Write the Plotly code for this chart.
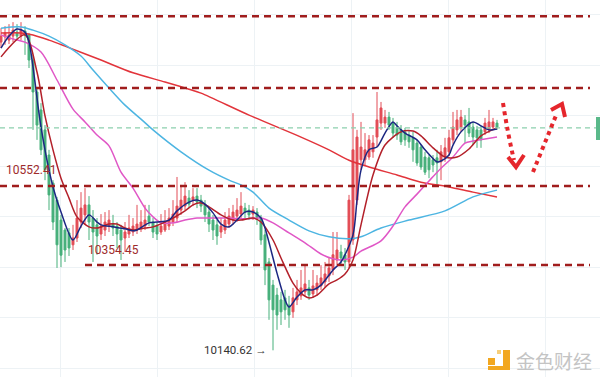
import plotly.graph_objects as go

# ---------------- data (prices) ----------------
open_ = [10913,10926,10918,10928,10938,10928,10941,10931,10868,10788,
         10743,10693,10630,10560,10517,10467,10442,10435,10405,10422,
         10462,10480,10505,10472,10455,10432,10442,10452,10457,10452,
         10442,10422,10432,10437,10442,10447,10452,10477,10462,10452,
         10437,10442,10452,10462,10472,10492,10502,10522,10517,10527,
         10517,10505,10487,10467,10455,10437,10442,10457,10467,10477,
         10482,10497,10492,10482,10487,10472,10430,10362,10304,10279,
         10267,10272,10254,10237,10267,10277,10287,10297,10282,10292,
         10302,10312,10327,10342,10367,10387,10380,10362,10417,10517,
         10618,10618,10625,10638,10675,10710,10710,10725,10710,10700,
         10693,10688,10680,10673,10660,10650,10625,10623,10618,10623,
         10613,10625,10638,10668,10693,10700,10718,10713,10700,10693,
         10693,10688,10693,10700,10710]
high = [10948,10953,10958,10963,10958,10963,10953,10936,10881,10798,
        10760,10705,10643,10567,10525,10480,10447,10447,10455,10517,
        10537,10547,10527,10492,10472,10482,10487,10492,10480,10462,
        10455,10462,10480,10472,10505,10492,10505,10505,10472,10462,
        10482,10492,10497,10517,10575,10555,10562,10542,10547,10547,
        10530,10517,10497,10480,10467,10472,10487,10497,10505,10522,
        10537,10510,10505,10502,10497,10480,10442,10372,10317,10297,
        10287,10292,10277,10297,10317,10342,10354,10317,10342,10329,
        10354,10362,10372,10437,10437,10405,10397,10530,10735,10693,
        10713,10685,10680,10680,10788,10763,10743,10738,10723,10713,
        10705,10698,10693,10688,10668,10655,10638,10630,10630,10643,
        10655,10673,10693,10738,10743,10743,10730,10748,10713,10703,
        10703,10723,10743,10723,10718]
low = [10898,10906,10908,10913,10918,10918,10881,10848,10693,10668,
       10630,10567,10492,10442,10347,10349,10362,10377,10392,10412,
       10447,10455,10417,10362,10380,10417,10427,10437,10427,10397,
       10367,10387,10422,10427,10432,10437,10442,10452,10422,10417,
       10430,10437,10442,10452,10462,10480,10492,10497,10502,10497,
       10487,10462,10437,10417,10405,10422,10432,10447,10455,10462,
       10472,10472,10467,10467,10455,10405,10304,10217,10140.62,10192,
       10204,10217,10197,10222,10254,10267,10277,10267,10272,10277,
       10292,10297,10312,10329,10354,10354,10342,10347,10405,10505,
       10593,10605,10618,10623,10650,10693,10698,10693,10673,10668,
       10655,10653,10648,10613,10603,10593,10580,10572,10587,10550,
       10567,10613,10628,10658,10680,10688,10660,10675,10655,10648,
       10648,10680,10685,10693,10693]
close = [10928,10936,10931,10943,10928,10943,10931,10868,10788,10705,
         10643,10593,10530,10462,10405,10379,10392,10397,10422,10472,
         10497,10505,10462,10437,10427,10452,10462,10467,10447,10432,
         10417,10437,10447,10452,10457,10462,10467,10462,10437,10432,
         10452,10462,10472,10482,10502,10517,10527,10507,10525,10512,
         10502,10480,10457,10442,10427,10452,10467,10477,10487,10492,
         10502,10487,10480,10492,10472,10417,10342,10267,10242,10229,
         10237,10242,10229,10272,10287,10297,10307,10279,10302,10309,
         10322,10332,10347,10380,10392,10372,10362,10517,10643,10675,
         10650,10643,10668,10660,10718,10748,10725,10705,10685,10680,
         10663,10668,10663,10643,10610,10600,10587,10593,10605,10610,
         10638,10648,10673,10700,10718,10725,10705,10685,10675,10673,
         10668,10710,10713,10713,10700]
candle_idx = list(range(len(close)))

# moving averages (index, price)
ma_navy_idx = [0,2,4,6,7,8,10,13,15,18,20,22,24,25,28,31,33,34,37,39,42,44,47,49,51,53,55,57,59,61,
               63,65,66,69,71,72,74,76,78,80,83,85,88,89,90,92,94,96,98,99,101,104,106,109,110,112,113,115,118,120,122,124]
ma_navy = [10898,10928,10946,10938,10913,10851,10700,10550,10487,10417,
           10452,10480,10462,10455,10450,10445,10440,10442,10460,10462,
           10467,10490,10512,10517,10507,10485,10457,10450,10467,10487,
           10487,10472,10447,10334,10267,10249,10274,10292,10292,10304,
           10342,10362,10430,10517,10592,10643,10650,10685,10713,10703,
           10685,10668,10643,10613,10615,10630,10655,10688,10713,10703,
           10693,10695]
ma_dred_idx = [0,6,9,11,13,15,17,19,22,24,27,29,31,33,36,38,41,43,46,48,50,52,55,58,60,63,65,68,70,73,
               75,77,79,82,84,86,88,90,93,96,100,103,105,108,111,114,117,120,124]
ma_dred = [10876,10931,10838,10728,10643,10572,10522,10475,10450,10447,
           10457,10457,10447,10442,10447,10450,10462,10472,10490,10505,
           10510,10500,10480,10467,10467,10472,10462,10417,10372,10309,
           10284,10272,10279,10307,10317,10332,10367,10455,10580,10655,
           10688,10690,10678,10648,10625,10625,10645,10678,10698]
ma_pink_idx = [0,3,6,10,14,18,21,24,27,30,33,36,38,40,43,46,49,53,57,61,65,68,72,76,80,83,85,88,90,95,
               98,101,104,107,110,113,116,118,121,124]
ma_pink = [10931,10921,10913,10888,10818,10745,10713,10680,10653,10587,
           10547,10497,10475,10460,10460,10467,10472,10472,10472,10470,
           10472,10460,10435,10410,10382,10370,10367,10374,10389,10415,
           10452,10500,10532,10565,10597,10625,10660,10665,10670,10675]
ma_blue_idx = [0,5,8,12,16,20,23,27,31,35,38,45,52,57,60,63,67,72,77,82,87,90,95,102,111,118,124]
ma_blue = [10948,10951,10943,10928,10906,10878,10843,10798,10755,10720,
           10693,10638,10592,10567,10555,10537,10497,10467,10440,10425,
           10420,10425,10447,10467,10490,10525,10542]
ma_red_idx = [0,5,8,12,16,25,33,41,47,50,62,75,82,87,92,99,105,112,118,124]
ma_red = [10936,10936,10931,10918,10903,10868,10836,10813,10795,10785,
          10730,10675,10643,10617,10600,10580,10562,10550,10537,10525]

level_lines = [10978.0, 10798.0, 10552.41, 10354.45]
current_price = 10698.0
label_prices = ["10552.41", "10354.45"]
low_label = "10140.62"
low_value = 10140.62
low_index = 68
watermark = "金色财经"

# ---------------- figure ----------------
W, H = 600, 377
def px(x):
    return x / W
def py(y):
    return 1 - y / H

fig = go.Figure()
fig.add_trace(go.Candlestick(
    x=candle_idx, open=open_, high=high, low=low, close=close,
    increasing=dict(line=dict(color="#e2444e", width=1), fillcolor="#e2444e"),
    decreasing=dict(line=dict(color="#3eac74", width=1), fillcolor="#3eac74"),
    whiskerwidth=0, hoverinfo="skip", opacity=0.95))

def ma(xs, ys, color):
    fig.add_trace(go.Scatter(x=xs, y=ys, mode="lines",
                             line=dict(color=color, width=1.5, shape="spline", smoothing=0.8),
                             hoverinfo="skip"))

ma(ma_red_idx, ma_red, "#e2343b")
ma(ma_blue_idx, ma_blue, "#4db5e2")
ma(ma_pink_idx, ma_pink, "#e057c6")
ma(ma_dred_idx, ma_dred, "#b3202a")
ma(ma_navy_idx, ma_navy, "#1c2782")

shapes = []
starts = [0, 0, 0, 85]
for lv, s in zip(level_lines, starts):
    shapes.append(dict(type="line", xref="paper", yref="y", x0=px(s), x1=px(590), y0=lv, y1=lv,
                       line=dict(color="#a01d1d", width=2.5, dash="7px,5px"), layer="above"))
shapes.append(dict(type="line", xref="paper", yref="y", x0=0, x1=px(596), y0=current_price, y1=current_price,
                   line=dict(color="#8ccfad", width=1.2, dash="5px,4px"), layer="above"))
shapes.append(dict(type="rect", xref="paper", yref="paper", x0=px(596), x1=1, y0=py(140), y1=py(117),
                   fillcolor="#5ab98a", line=dict(width=0)))
red = "#e5262c"
shapes.append(dict(type="path", xref="paper", yref="paper",
                   path=f"M {px(503)},{py(103)} Q {px(508)},{py(135)} {px(514)},{py(160)}",
                   line=dict(color=red, width=4, dash="4px,4px")))
shapes.append(dict(type="path", xref="paper", yref="paper",
                   path=f"M {px(508)},{py(157)} L {px(516)},{py(167)} L {px(524)},{py(155)}",
                   line=dict(color=red, width=4)))
shapes.append(dict(type="line", xref="paper", yref="paper", x0=px(533), y0=py(172), x1=px(557), y1=py(113),
                   line=dict(color=red, width=4, dash="4px,4px")))
shapes.append(dict(type="path", xref="paper", yref="paper",
                   path=f"M {px(551)},{py(110)} L {px(562)},{py(104)} L {px(565)},{py(117)}",
                   line=dict(color=red, width=4)))
orange = "#f2a71f"
shapes.append(dict(type="rect", xref="paper", yref="paper", x0=px(488), x1=px(495), y0=py(365), y1=py(358),
                   fillcolor=orange, line=dict(width=0)))
shapes.append(dict(type="rect", xref="paper", yref="paper", x0=px(503), x1=px(510), y0=py(370), y1=py(350),
                   fillcolor=orange, line=dict(width=0)))
shapes.append(dict(type="rect", xref="paper", yref="paper", x0=px(488), x1=px(510), y0=py(370), y1=py(366),
                   fillcolor=orange, line=dict(width=0)))
shapes.append(dict(type="rect", xref="paper", yref="paper", x0=px(497), x1=px(501), y0=py(354), y1=py(350),
                   fillcolor="#f7cf7a", line=dict(width=0)))

annotations = [
    dict(x=px(4), xref="paper", y=level_lines[2], yref="y", yshift=16, text=label_prices[0],
         showarrow=False, xanchor="left", yanchor="middle",
         font=dict(family="Roboto", size=12, color="#9e2a2b")),
    dict(x=px(86), xref="paper", y=level_lines[3], yref="y", yshift=15, text=label_prices[1],
         showarrow=False, xanchor="left", yanchor="middle",
         font=dict(family="Roboto", size=12, color="#9e2a2b")),
    dict(x=low_index, xref="x", y=low_value, yref="y", xshift=-4, text=low_label + " →",
         showarrow=False, xanchor="right", yanchor="middle",
         font=dict(family="Roboto", size=11.5, color="#333333")),
    dict(x=px(514), xref="paper", y=py(360), yref="paper", text=watermark, showarrow=False,
         xanchor="left", yanchor="middle",
         font=dict(family="Noto Sans CJK SC", size=19, color="#c4c4c4")),
]

fig.update_layout(
    width=W, height=H, margin=dict(l=0, r=0, t=0, b=0),
    paper_bgcolor="white", plot_bgcolor="white", showlegend=False,
    shapes=shapes, annotations=annotations,
    xaxis=dict(range=[-0.25, 149.75], showticklabels=False, zeroline=False,
               showgrid=True, gridcolor="#edf2f5", gridwidth=1, tick0=14.75, dtick=24.25,
               rangeslider=dict(visible=False), fixedrange=True),
    yaxis=dict(range=[10073.7, 11018.5], showticklabels=False, zeroline=False,
               showgrid=True, gridcolor="#edf2f5", gridwidth=1, tick0=10855.6, dtick=126.6,
               fixedrange=True),
)

fig.write_html("out.html", config={"displayModeBar": False},
               post_script="document.body.style.margin='0';document.body.style.overflow='hidden';")
